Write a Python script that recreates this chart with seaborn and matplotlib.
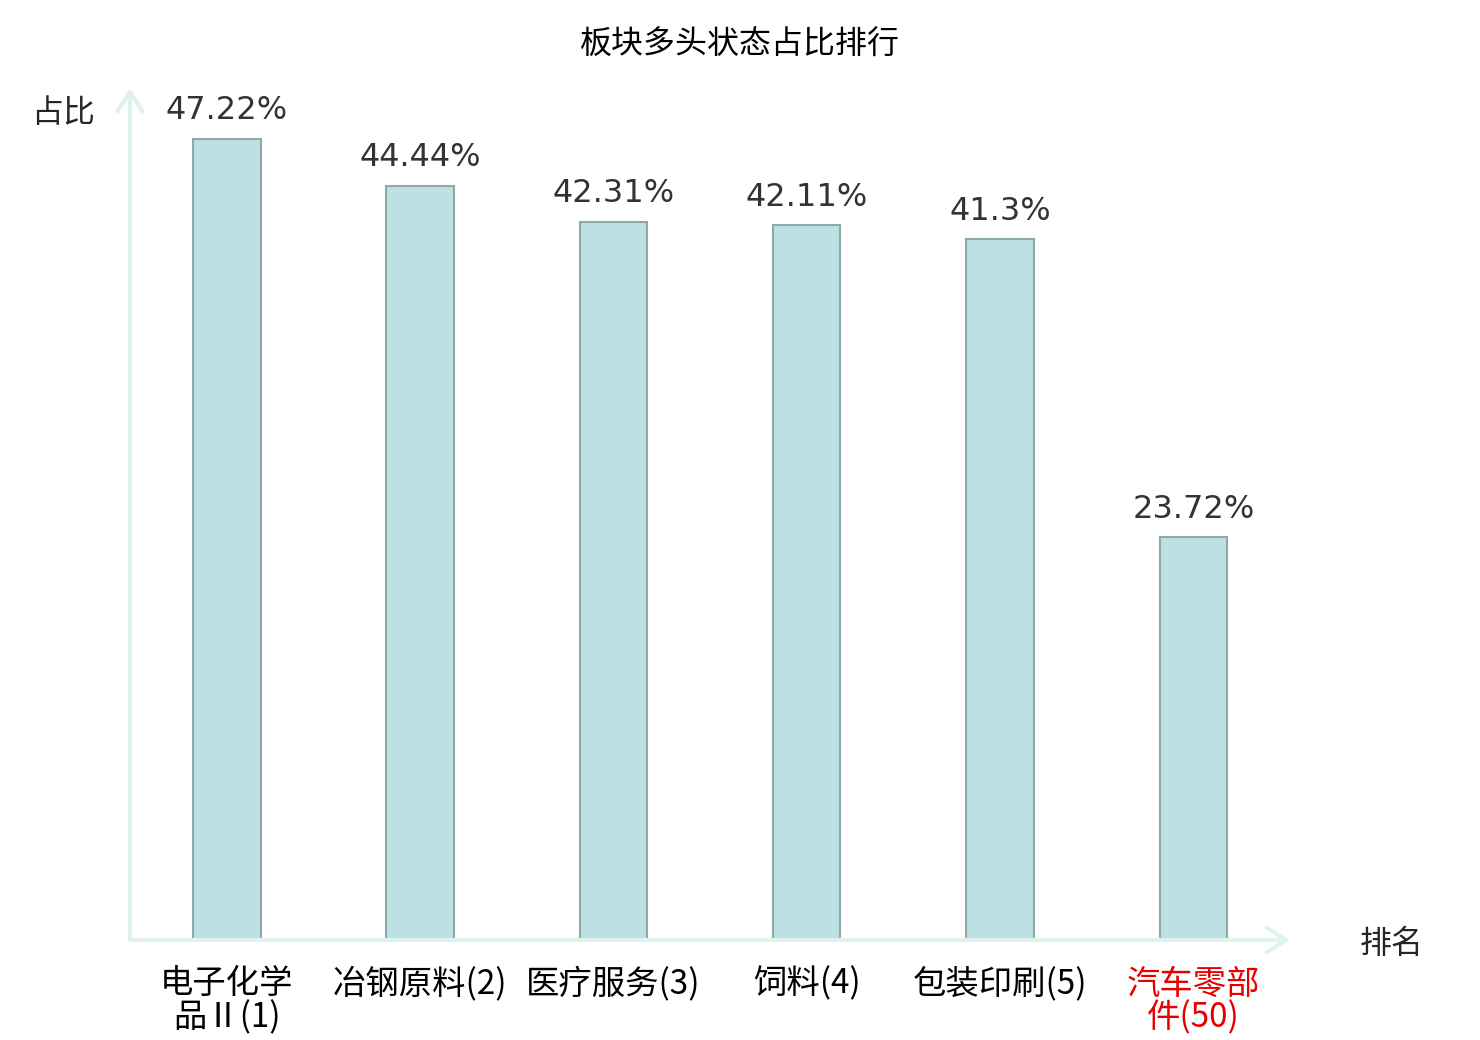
import matplotlib
matplotlib.use("Agg")
import matplotlib.pyplot as plt
import seaborn as sns

# data
sectors = ["电子化学\n品Ⅱ(1)", "冶钢原料(2)", "医疗服务(3)", "饲料(4)", "包装印刷(5)", "汽车零部\n件(50)"]
shares = [47.22, 44.44, 42.31, 42.11, 41.3, 23.72]
share_labels = ["47.22%", "44.44%", "42.31%", "42.11%", "41.3%", "23.72%"]
highlight = [False, False, False, False, False, True]

sns.set_style("white")
plt.rcParams["font.family"] = ["Noto Sans CJK SC", "DejaVu Sans"]

W, H = 1480, 1040
fig = plt.figure(figsize=(W / 100, H / 100), dpi=100)
ax = fig.add_axes([130 / W, 100 / H, 1160 / W, 852 / H])

sns.barplot(x=sectors, y=shares, ax=ax, color="#bde0e3", saturation=1,
            width=0.35, edgecolor="#8fa9a9", linewidth=1.5)

ax.set_xlim(-0.5, 5.5)
ax.set_ylim(0, 50.2)
for s in ax.spines.values():
    s.set_visible(False)
ax.set_yticks([])
ax.tick_params(axis="x", length=0, pad=19, labelsize=24)
for lab, hl in zip(ax.get_xticklabels(), highlight):
    lab.set_linespacing(0.95)
    lab.set_color("#e60000" if hl else "black")

# value labels above bars
for i, (v, t) in enumerate(zip(shares, share_labels)):
    ax.annotate(t, (i, v), xytext=(0, 9), textcoords="offset points",
                ha="center", va="bottom", fontsize=23, color="#333333",
                family="DejaVu Sans")

# axes drawn as arrows
axis_color = "#dff2f0"
arrow = dict(arrowstyle="->,head_length=0.7,head_width=0.45", color=axis_color,
             lw=3, mutation_scale=20, shrinkA=0, shrinkB=0)
ax.annotate("", xy=(0, 1), xytext=(0, 0), xycoords="axes fraction",
            arrowprops=arrow, annotation_clip=False)
ax.annotate("", xy=(1, 0), xytext=(0, 0), xycoords="axes fraction",
            arrowprops=arrow, annotation_clip=False)

fig.text(0.5, 1 - 45 / H, "板块多头状态占比排行", ha="center", va="center",
         fontsize=23, color="black")
fig.text(63 / W, 1 - 113 / H, "占比", ha="center", va="center", fontsize=23)
fig.text(1392 / W, 1 - 944 / H, "排名", ha="center", va="center", fontsize=23)

fig.savefig("out.png", dpi=100)
